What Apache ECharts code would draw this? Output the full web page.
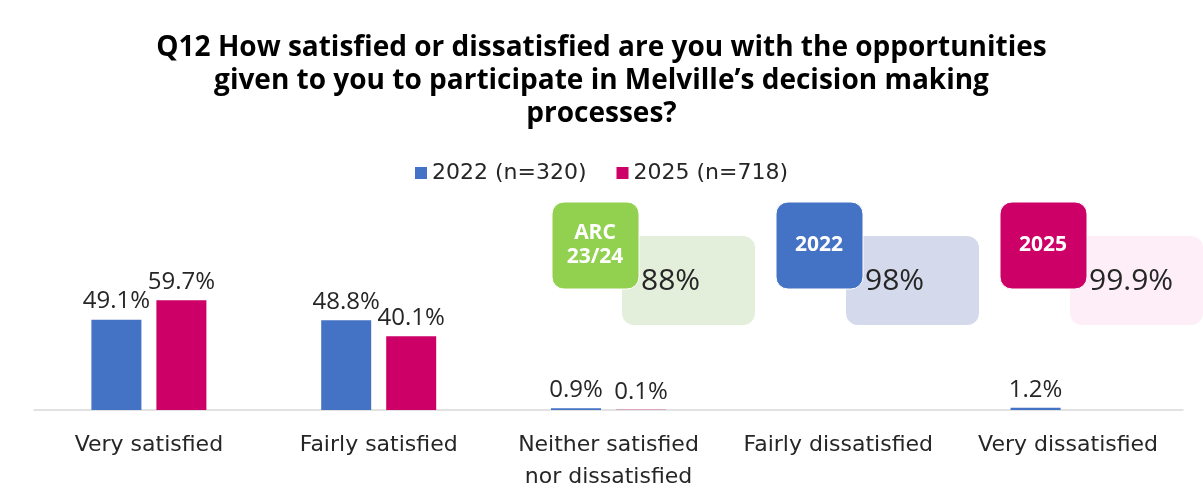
<!DOCTYPE html>
<html>
<head>
<meta charset="utf-8">
<script src="https://cdn.jsdelivr.net/npm/echarts@6/dist/echarts.min.js"></script>
<style>
  html, body { margin: 0; padding: 0; background: #fff; }
  #chart { width: 1203px; height: 502px; }
</style>
</head>
<body>
<div id="chart"></div>
<script>
// Survey responses (percent of respondents)
const categories = [
  'Very satisfied',
  'Fairly satisfied',
  'Neither satisfied\nnor dissatisfied',
  'Fairly dissatisfied',
  'Very dissatisfied'
];
const seriesNames = ['2022 (n=320)', '2025 (n=718)'];
const values2022 = [49.1, 48.8, 0.9, 0, 1.2];
const values2025 = [59.7, 40.1, 0.1, 0, 0];

// Overall satisfaction summary tiles
const summaryTags = ['ARC\n23/24', '2022', '2025'];
const summaryValues = ['88%', '98%', '99.9%'];

const titleText = 'Q12 How satisfied or dissatisfied are you with the opportunities\n' +
  'given to you to participate in Melville\u2019s decision making\nprocesses?';

const FONT = '"Open Sans", "Noto Sans", sans-serif';
const WIDE_FONT = '"DejaVu Sans", "Open Sans", sans-serif';
const BLUE = '#4472C4';
const PINK = '#CC0066';
const GREEN = '#92D050';
const tagColors = [GREEN, BLUE, PINK];
const panelColors = ['#E3EFDB', '#D4D9EB', '#FDEEF7'];

// Summary tiles: a coloured tag overlapping a pale panel
const graphics = [];
summaryTags.forEach((tag, i) => {
  const dx = i * 224;
  graphics.push({
    type: 'rect', z: 10,
    shape: { x: 622 + dx, y: 236, width: 133, height: 89, r: 12 },
    style: { fill: panelColors[i] }
  });
  graphics.push({
    type: 'rect', z: 11,
    shape: { x: 552 + dx, y: 202, width: 87, height: 87, r: 12 },
    style: { fill: tagColors[i], stroke: '#fff', lineWidth: 1 }
  });
  graphics.push({
    type: 'text', z: 12,
    x: 595 + dx, y: 245,
    style: {
      text: tag, fill: '#fff', font: 'bold 21px ' + FONT,
      align: 'center', verticalAlign: 'middle', lineHeight: 24
    }
  });
  graphics.push({
    type: 'text', z: 12,
    x: 641 + dx, y: 281,
    style: {
      text: summaryValues[i], fill: '#262626', font: '30px ' + FONT,
      align: 'left', verticalAlign: 'middle'
    }
  });
});

const labelStyle = {
  show: true,
  position: 'top',
  distance: 6,
  color: '#262626',
  fontFamily: FONT,
  fontSize: 24,
  formatter: p => (p.value ? p.value.toFixed(1) + '%' : '')
};

const chart = echarts.init(document.getElementById('chart'), null, { renderer: 'canvas' });
chart.setOption({
  animation: false,
  backgroundColor: '#fff',
  title: {
    text: titleText,
    left: 'center',
    top: 27,
    textStyle: {
      fontFamily: FONT, fontWeight: 'bold', fontSize: 28,
      color: '#000', lineHeight: 33
    }
  },
  legend: {
    top: 157,
    left: 'center',
    itemWidth: 12,
    itemHeight: 12,
    itemGap: 30,
    icon: 'rect',
    textStyle: { fontFamily: WIDE_FONT, fontSize: 22, color: '#262626' },
    data: seriesNames
  },
  grid: { left: 34, right: 20, top: 226, bottom: 92 },
  xAxis: {
    type: 'category',
    data: categories,
    axisLine: { lineStyle: { color: '#D9D9D9', width: 1.5 } },
    axisTick: { show: false },
    axisLabel: {
      interval: 0, margin: 19,
      fontFamily: WIDE_FONT, fontSize: 22, color: '#262626', lineHeight: 32
    }
  },
  yAxis: {
    type: 'value', min: 0, max: 100, show: false,
    splitLine: { show: false }
  },
  series: [
    {
      name: seriesNames[0], type: 'bar', data: values2022,
      barWidth: 50, barGap: '30%',
      itemStyle: { color: BLUE },
      label: labelStyle
    },
    {
      name: seriesNames[1], type: 'bar', data: values2025,
      barWidth: 50,
      itemStyle: { color: PINK },
      label: labelStyle
    }
  ],
  graphic: graphics
});
</script>
</body>
</html>
